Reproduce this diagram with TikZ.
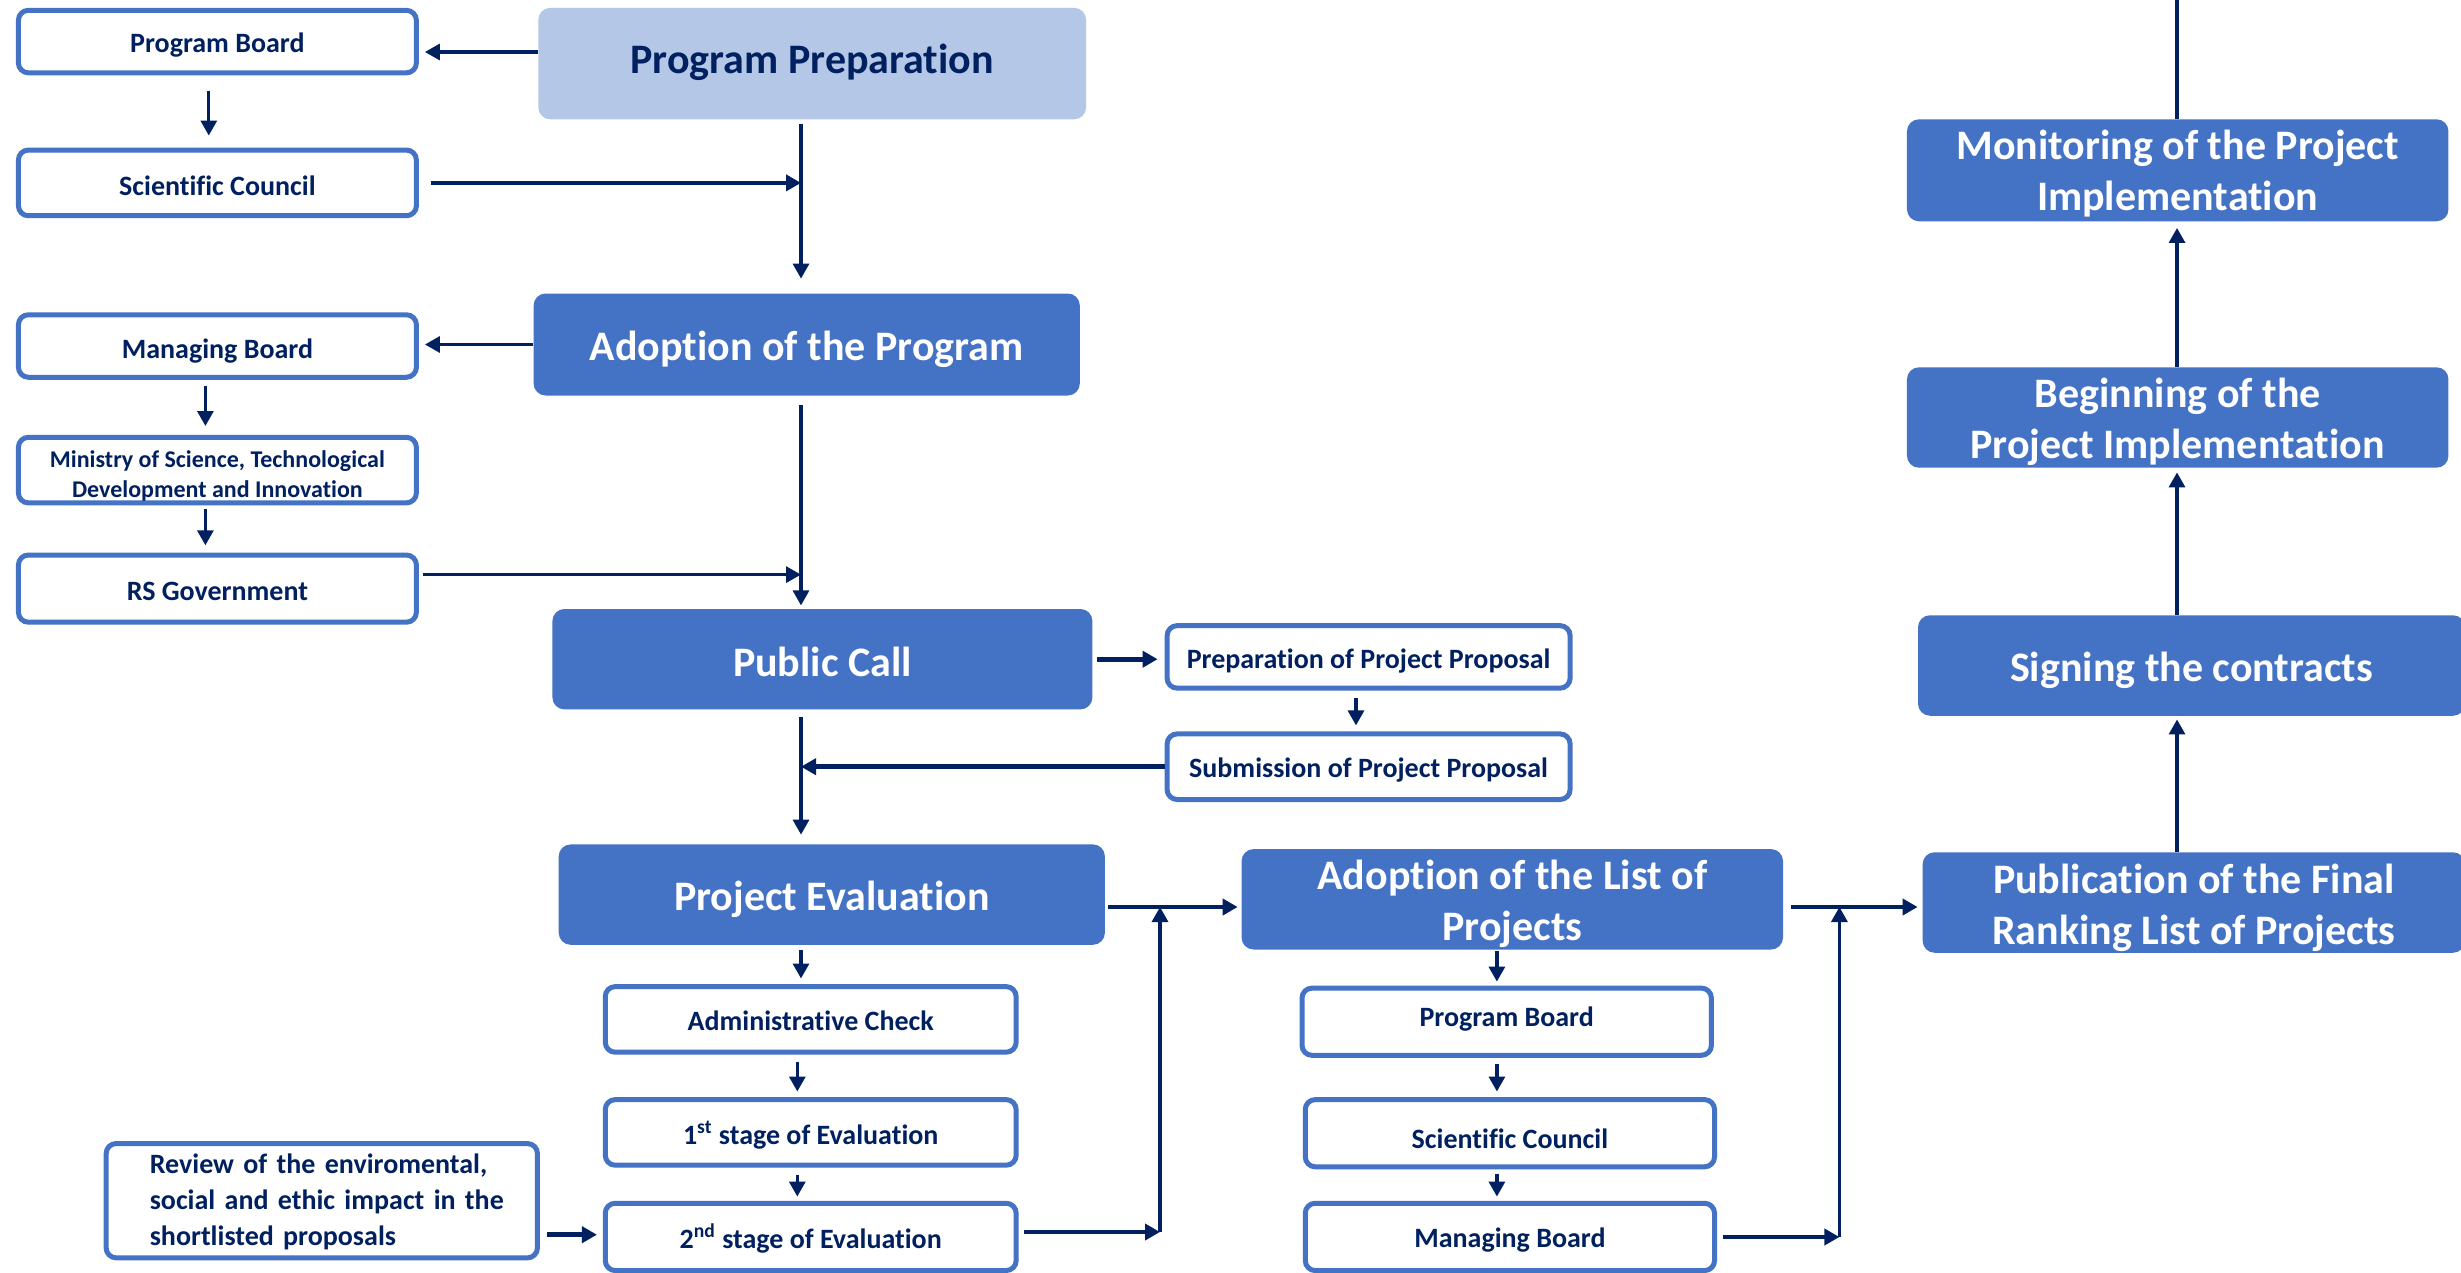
\documentclass[tikz,border=0pt]{standalone}
\usepackage{fontspec}
\setmainfont{Carlito}[Ligatures=NoCommon]
\usetikzlibrary{arrows.meta}
\definecolor{boxblue}{RGB}{68,114,196}
\definecolor{lightblue}{RGB}{180,199,231}
\definecolor{navy}{RGB}{0,32,96}
\begin{document}
\begin{tikzpicture}[x=0.5pt,y=-0.5pt,
  big/.style={fill=boxblue, rounded corners=6pt, inner sep=0pt},
  lightbox/.style={big, fill=lightblue},
  bigtxt/.style={text=white, inner sep=0pt, align=center, font=\bfseries\fontsize{21}{25.5}\selectfont},
  lighttxt/.style={bigtxt, text=navy},
  wbox/.style={draw=boxblue, line width=2.5pt, fill=white, rounded corners=5pt, inner sep=0pt},
  wtxt/.style={text=navy, inner sep=0pt, align=center, font=\bfseries\fontsize{14}{18}\selectfont},
  smalltxt/.style={wtxt, font=\bfseries\fontsize{12}{15}\selectfont},
  arr/.style={draw=navy, line width=1.6pt, -{Triangle[length=7.5pt,width=8pt]}},
  arrb/.style={arr, line width=2.3pt},
  plain/.style={draw=navy, line width=1.6pt}]
\useasboundingbox[fill=white] (0,0) rectangle (2461,1273);
% left column
\node[wbox, minimum width=199pt, minimum height=31.25pt, label={[wtxt, yshift=-1.5pt]center:{Program Board}}] (pb1) at (217.4,41.6) {};
\node[wbox, minimum width=199pt, minimum height=32.85pt, label={[wtxt, yshift=-1.5pt]center:{Scientific Council}}] (sc1) at (217.4,182.9) {};
\node[wbox, minimum width=199pt, minimum height=31.25pt, label={[wtxt, yshift=-2.3pt]center:{Managing Board}}] (mb1) at (217.4,346) {};
\node[wbox, minimum width=199pt, minimum height=32.8pt, label={[smalltxt, yshift=-3pt]center:{Ministry of Science, Technological\\Development and Innovation}}] (min) at (217.4,470.1) {};
\node[wbox, minimum width=199pt, minimum height=33.6pt, label={[wtxt, yshift=-1.5pt]center:{RS Government}}] (rs) at (217.4,588.6) {};
% main column
\node[lightbox, minimum width=273.9pt, minimum height=55.75pt, label={[lighttxt, yshift=0.8pt]center:{Program Preparation}}] (pp) at (812.2,63.6) {};
\node[big, minimum width=273.1pt, minimum height=51pt, label={[bigtxt, yshift=-2.3pt]center:{Adoption of the Program}}] (ap) at (806.7,344.5) {};
\node[big, minimum width=270pt, minimum height=50.2pt, label={[bigtxt, yshift=-1.5pt]center:{Public Call}}] (pc) at (822.4,659.2) {};
\node[big, minimum width=273.1pt, minimum height=50.2pt, label={[bigtxt, yshift=-2.3pt]center:{Project Evaluation}}] (pe) at (831.8,894.6) {};
\node[wbox, minimum width=205.45pt, minimum height=32.8pt, label={[wtxt, yshift=-0.8pt]center:{Administrative Check}}] (adm) at (810.7,1019.4) {};
\node[wbox, minimum width=205.45pt, minimum height=32.8pt, label={[wtxt, yshift=-1.5pt]center:{1\textsuperscript{st} stage of Evaluation}}] (s1) at (810.7,1132.4) {};
\node[wbox, minimum width=205.45pt, minimum height=33.65pt, label={[wtxt, yshift=-0.8pt]center:{2\textsuperscript{nd} stage of Evaluation}}] (s2) at (810.7,1236.9) {};
\node[wbox, minimum width=215.65pt, minimum height=57.15pt, label={[wtxt, align=left, text width=182pt, xshift=5pt, yshift=-0.5pt]center:{Review of the enviromental,\\social and ethic impact in the\\shortlisted proposals}}] (rev) at (321.8,1200.7) {};
% proposal boxes
\node[wbox, minimum width=201.5pt, minimum height=31.25pt, label={[wtxt, yshift=-2.3pt]center:{Preparation of Project Proposal}}] (prep) at (1368.6,656.9) {};
\node[wbox, minimum width=201.5pt, minimum height=32.8pt, label={[wtxt, yshift=-1.5pt]center:{Submission of Project Proposal}}] (subm) at (1368.6,766.7) {};
% list column
\node[big, minimum width=270.75pt, minimum height=50.2pt, label={[bigtxt, yshift=-2.3pt]center:{Adoption of the List of\\Projects}}] (al) at (1512.3,899.3) {};
\node[wbox, minimum width=204.7pt, minimum height=33.6pt, label={[wtxt, yshift=1.5pt]center:{Program Board}}] (pbr) at (1506.7,1021.7) {};
\node[wbox, minimum width=204.65pt, minimum height=33.6pt, label={[wtxt, yshift=-3pt]center:{Scientific Council}}] (scr) at (1509.9,1133.2) {};
\node[wbox, minimum width=204.65pt, minimum height=33.65pt, label={[wtxt, yshift=-1.5pt]center:{Managing Board}}] (mbr) at (1509.9,1236.9) {};
% right column
\node[big, minimum width=271.2pt, minimum height=50.25pt, label={[bigtxt, yshift=-2.7pt]center:{Publication of the Final\\Ranking List of Projects}}] (pub) at (2193.8,902.5) {};
\node[big, minimum width=273.5pt, minimum height=50.25pt, label={[bigtxt, yshift=-2.3pt]center:{Signing the contracts}}] (sign) at (2191.5,665.5) {};
\node[big, minimum width=270.75pt, minimum height=50.2pt, label={[bigtxt, yshift=-2pt]center:{Beginning of the\\Project Implementation}}] (beg) at (2177.7,417.5) {};
\node[big, minimum width=270.75pt, minimum height=51pt, label={[bigtxt, yshift=-1.5pt]center:{Monitoring of the Project\\Implementation}}] (mon) at (2177.7,170.3) {};
% helper coordinates
\coordinate (spine) at (801,0);
\coordinate (j1) at (1160,1232);
\coordinate (j1t) at (1160,907);
\coordinate (j2) at (1839.4,1237);
\coordinate (j2t) at (1839.4,907);
\coordinate (rcol) at (2177,0);
\coordinate (top) at (2177,0);
% connectors, left part
\draw[arr, shorten >=3pt] (pp.west |- 0,52) -- (pb1.east |- 0,52);
\draw[arr, shorten <=7.6pt, shorten >=6pt] ([xshift=-4.3pt]pb1.south) -- ([xshift=-4.3pt]pb1.south |- sc1.north);
\draw[arr, shorten <=2.3pt, shorten >=7.25pt] (pp.south -| spine) -- (ap.north -| spine);
\draw[arrb, shorten <=6pt] (sc1.east) -- (sc1.east -| spine);
\draw[arr, shorten >=3pt] (ap.west) -- (ap.west -| mb1.east);
\draw[arr, shorten <=2.9pt, shorten >=4.4pt] ([xshift=-6pt]mb1.south) -- ([xshift=-6pt]mb1.south |- min.north);
\draw[arr, shorten <=2pt, shorten >=3.6pt] ([xshift=-6pt]min.south) -- ([xshift=-6pt]min.south |- rs.north);
\draw[arr, shorten <=4.75pt, shorten >=1.6pt] (ap.south -| spine) -- (pc.north -| spine);
\draw[arr, shorten <=2pt] ([yshift=7pt]rs.east) -- ([yshift=7pt]rs.east -| spine);
\draw[arrb, shorten <=2.3pt, shorten >=3.5pt] (pc.east) -- (pc.east -| prep.west);
\draw[arr, shorten <=3.5pt, shorten >=3pt] ([xshift=-6.3pt]prep.south) -- ([xshift=-6.3pt]prep.south |- subm.north);
\draw[arrb] (subm.west) -- (subm.west -| spine);
\draw[arr, shorten <=3.8pt, shorten >=4.7pt] (pc.south -| spine) -- (pe.north -| spine);
\draw[arr, shorten <=2.4pt, shorten >=2.8pt] (pe.south -| spine) -- (adm.north -| spine);
\draw[arr, shorten <=3.4pt, shorten >=2.8pt] ([xshift=-6.7pt]adm.south) -- ([xshift=-6.7pt]adm.south |- s1.north);
\draw[arr, shorten <=3.4pt, shorten >=2.1pt] ([xshift=-6.7pt]s1.south) -- ([xshift=-6.7pt]s1.south |- s2.north);
\draw[arrb, shorten <=3.6pt, shorten >=2.9pt] ([yshift=-17pt]rev.east) -- ([yshift=-17pt]rev.east -| s2.west);
\draw[arrb, shorten <=2.8pt] (s2.east |- j1) -- (j1);
\draw[arr] (j1) -- (j1t);
\draw[arrb, shorten <=1.5pt, shorten >=1.75pt] (pe.east |- j1t) -- (al.west |- j1t);
% list column
\draw[arr, shorten <=0.75pt, shorten >=2pt] ([xshift=-7.7pt]al.south) -- ([xshift=-7.7pt]al.south |- pbr.north);
\draw[arr, shorten <=2.9pt, shorten >=2.8pt] ([xshift=-7.7pt]al.south |- pbr.south) -- ([xshift=-7.7pt]al.south |- scr.north);
\draw[arr, shorten <=2.1pt, shorten >=2.1pt] ([xshift=-7.7pt]al.south |- scr.south) -- ([xshift=-7.7pt]al.south |- mbr.north);
\draw[arrb, shorten <=2.75pt] (mbr.east |- j2) -- (j2);
\draw[arr] (j2) -- (j2t);
\draw[arrb, shorten <=4pt, shorten >=2.3pt] (al.east |- j2t) -- (pub.west |- j2t);
% right column
\draw[arr, shorten >=1.65pt] (pub.north -| rcol) -- (sign.south -| rcol);
\draw[arr, shorten >=2.15pt] (sign.north -| rcol) -- (beg.south -| rcol);
\draw[arr, shorten >=3.15pt] (beg.north -| rcol) -- (mon.south -| rcol);
\draw[plain] (mon.north -| rcol) -- (top);
\end{tikzpicture}
\end{document}
